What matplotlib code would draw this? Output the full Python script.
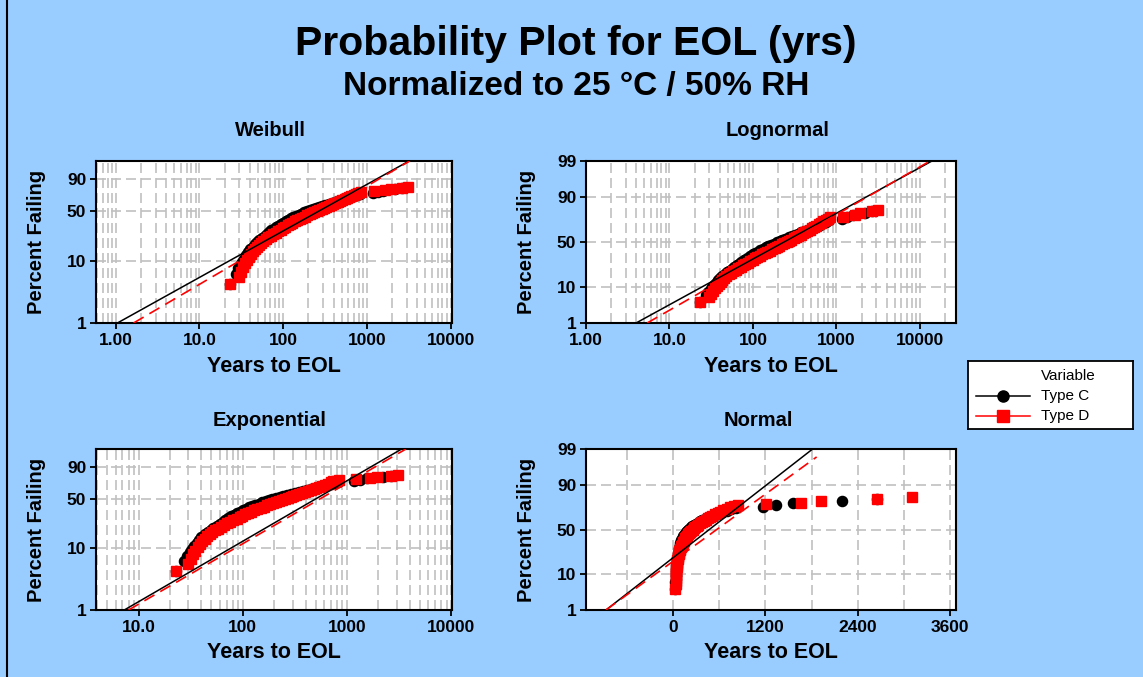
import numpy as np
import matplotlib
matplotlib.use("Agg")
import matplotlib.pyplot as plt
from matplotlib.lines import Line2D
from matplotlib.ticker import NullFormatter, NullLocator, MultipleLocator, LogLocator
from statistics import NormalDist

plt.rcParams['font.family'] = ['Liberation Sans', 'DejaVu Sans']

# %% data: years to EOL and percent failing
years_c = [23, 27, 29, 31, 32.5, 34, 36, 38, 40, 43, 46, 49, 52, 56, 60, 64, 68, 72, 77, 82,
           87, 93, 100, 107, 115, 123, 132, 142, 153, 165, 178, 192, 208, 225, 245, 267, 291,
           318, 348, 380, 415, 453, 494, 538, 586, 638, 694, 754, 818,
           1170, 1340, 1560, 2190, 2650]
pct_c = [4.3, 6.3, 7.6, 8.8, 9.6, 10.8, 12.2, 13.6, 15.0, 16.5, 18.0, 19.3, 20.6, 22.0, 23.6,
         25.2, 26.8, 28.3, 29.8, 31.3, 32.8, 34.4, 36.0, 37.6, 39.2, 40.8, 42.3, 43.8, 45.3,
         46.8, 48.2, 49.6, 51.0, 52.4, 53.8, 55.2, 56.6, 58.0, 59.4, 60.8, 62.2, 63.6, 65.0,
         66.4, 67.8, 69.2, 70.6, 71.9, 73.2,
         74.6, 76.2, 77.8, 79.4, 81.0]

years_d = [23, 30, 31.5, 33, 35, 37, 39, 41, 43, 45.5, 48, 51, 54, 58, 62, 66, 71, 76, 81, 87,
           93, 99, 106, 113, 121, 129, 138, 148, 158, 169, 181, 194, 207, 221, 236, 252, 269,
           287, 306, 326, 348, 371, 395, 421, 448, 477, 508, 541, 576, 613, 652, 694, 739,
           787, 840,
           1205, 1665, 1920, 2650, 3110]
pct_d = [4.3, 5.6, 6.8, 8.0, 9.2, 10.4, 11.6, 12.8, 14.0, 15.2, 16.4, 17.6, 18.8, 20.0, 21.3,
         22.6, 23.9, 25.2, 26.5, 27.8, 29.1, 30.4, 31.8, 33.2, 34.6, 36.0, 37.4, 38.8, 40.2,
         41.6, 43.0, 44.4, 45.8, 47.2, 48.6, 50.0, 51.4, 52.8, 54.2, 55.6, 57.0, 58.4, 59.8,
         61.2, 62.6, 64.0, 65.4, 66.8, 68.2, 69.6, 71.0, 72.4, 73.8, 75.0, 76.0,
         76.8, 78.2, 79.6, 81.0, 82.4]

# fitted lines: years at the low and high percent ends
fit_pct = [1, 99]
weib_fit_c = [1.045, 3190]
weib_fit_d = [1.63, 3250]
logn_fit_c = [3.98, 13900]
logn_fit_d = [5.4, 13200]
expo_fit_c = [7.29, 3340]
expo_fit_d = [8.0, 3670]
norm_fit_c = [-876, 1814]
norm_fit_d = [-876, 1866]
norm_fit_pct_d = [1, 98.2]

# %% probability scales
nd = NormalDist()


def weib_fwd(p):
    q = np.clip(np.asarray(p, float) / 100, 1e-9, 1 - 1e-9)
    return np.log(-np.log1p(-q))


def weib_inv(w):
    w = np.clip(np.asarray(w, float), -40, 4)
    return 100 * -np.expm1(-np.exp(w))


def norm_fwd(p):
    q = np.clip(np.asarray(p, float) / 100, 1e-9, 1 - 1e-9)
    return np.vectorize(nd.inv_cdf, otypes=[float])(q)


def norm_inv(z):
    return 100 * np.vectorize(nd.cdf, otypes=[float])(np.asarray(z, float))


grid_kw = dict(color='#c0c0c0', linestyle=(0, (6, 3)), linewidth=1.2)

fig = plt.figure(figsize=(11.43, 6.77), dpi=100, facecolor='#99ccff')
W, H = 1143, 677


def panel(box, title, title_x, title_y, yfun, yticks, xlog, xlim, xticks, xticklabels,
          fit_c, fit_d, pct_fit_d):
    l, t, r, b = box
    ax = fig.add_axes([l / W, 1 - b / H, (r - l) / W, (b - t) / H])
    ax.set_facecolor('white')
    ax.set_yscale('function', functions=yfun)
    if xlog:
        ax.set_xscale('log')
        ax.xaxis.set_minor_locator(LogLocator(base=10, subs=np.arange(2, 10)))
    else:
        ax.xaxis.set_minor_locator(MultipleLocator(600))
    ax.xaxis.set_minor_formatter(NullFormatter())
    ax.yaxis.set_minor_locator(NullLocator())

    ax.plot(years_c, pct_c, 'o', color='black', ms=7.3, zorder=3)
    ax.plot(years_d, pct_d, 's', color='red', ms=7.0, zorder=4)
    ax.plot(fit_c, fit_pct, '-', color='black', lw=1.1, zorder=5)
    ax.plot(fit_d, pct_fit_d, color='red', lw=1.2, linestyle=(0, (7, 4)), zorder=5)

    ax.set_xlim(xlim)
    ax.set_ylim(1, 99)
    ax.set_xticks(xticks)
    ax.set_xticklabels(xticklabels)
    ax.set_yticks(yticks)
    ax.set_yticklabels([str(v) for v in yticks])
    ax.xaxis.grid(True, which='both', **grid_kw)
    ax.yaxis.grid(True, which='major', **grid_kw)
    ax.set_axisbelow(True)
    ax.tick_params(which='major', direction='out', length=4, width=1.3, labelsize=12.5, pad=3)
    ax.tick_params(which='minor', length=0)
    for lab in ax.get_xticklabels() + ax.get_yticklabels():
        lab.set_fontweight('bold')
    for sp in ax.spines.values():
        sp.set_linewidth(1.5)

    ax.set_xlabel('Years to EOL', fontsize=15.5, fontweight='bold', va='center')
    ax.xaxis.set_label_coords(0.5, -43 / (b - t))
    ax.set_ylabel('Percent Failing', fontsize=14.5, fontweight='bold', va='center')
    ax.yaxis.set_label_coords(-60 / (r - l), 0.5)
    fig.text(title_x / W, 1 - title_y / H, title, fontsize=14.5, fontweight='bold',
             ha='center', va='center')
    return ax


panel((96, 161, 452, 323), 'Weibull', 270, 131, (weib_fwd, weib_inv), [1, 10, 50, 90],
      True, (0.58, 10400), [1, 10, 100, 1000, 10000], ['1.00', '10.0', '100', '1000', '10000'],
      weib_fit_c, weib_fit_d, fit_pct)
panel((586, 161, 956, 323), 'Lognormal', 778, 131, (norm_fwd, norm_inv), [1, 10, 50, 90, 99],
      True, (1.0, 27000), [1, 10, 100, 1000, 10000], ['1.00', '10.0', '100', '1000', '10000'],
      logn_fit_c, logn_fit_d, fit_pct)
panel((96, 449, 452, 610), 'Exponential', 270, 420, (weib_fwd, weib_inv), [1, 10, 50, 90],
      True, (3.9, 10150), [10, 100, 1000, 10000], ['10.0', '100', '1000', '10000'],
      expo_fit_c, expo_fit_d, fit_pct)
panel((586, 449, 956, 610), 'Normal', 758, 420, (norm_fwd, norm_inv), [1, 10, 50, 90, 99],
      False, (-1136, 3680), [0, 1200, 2400, 3600], ['0', '1200', '2400', '3600'],
      norm_fit_c, norm_fit_d, norm_fit_pct_d)

# titles
fig.text(576 / W, 1 - 44 / H, 'Probability Plot for EOL (yrs)', fontsize=29.5,
         fontweight='bold', ha='center', va='center')
fig.text(576 / W, 1 - 87 / H, 'Normalized to 25 °C / 50% RH', fontsize=24,
         fontweight='bold', ha='center', va='center')

# left border of the graph window
fig.add_artist(Line2D([7 / W, 7 / W], [0, 1], color='black', lw=1.5, transform=fig.transFigure))

# legend box
lg = fig.add_axes([968 / W, 1 - 429 / H, 165 / W, 68 / H])
lg.set_facecolor('white')
lg.set_xlim(0, 1)
lg.set_ylim(0, 1)
lg.set_xticks([])
lg.set_yticks([])
for sp in lg.spines.values():
    sp.set_linewidth(1.3)
lg.text(0.44, 0.78, 'Variable', fontsize=11, va='center')
lg.plot([0.05, 0.375], [0.48, 0.48], color='black', lw=1.1)
lg.plot([0.215], [0.48], 'o', color='black', ms=8)
lg.text(0.44, 0.48, 'Type C', fontsize=11, va='center')
lg.plot([0.05, 0.375], [0.19, 0.19], color='red', lw=1.1)
lg.plot([0.215], [0.19], 's', color='red', ms=8)
lg.text(0.44, 0.19, 'Type D', fontsize=11, va='center')

fig.savefig('out.png', dpi=100, facecolor=fig.get_facecolor())
